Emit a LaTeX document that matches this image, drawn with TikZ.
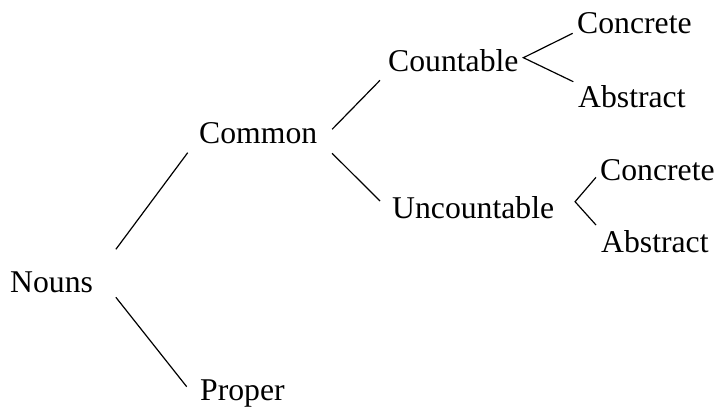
\documentclass[tikz,border=0pt]{standalone}
\usepackage{fontspec}
\setmainfont{Liberation Serif}
\tikzset{
  word/.style={inner sep=0pt, anchor=base west},
  branch/.style={line width=1.2pt}
}
\begin{document}
\begin{tikzpicture}[font=\fontsize{31.7}{38}\selectfont, x=1pt, y=-1pt]
        \useasboundingbox (0,0) rectangle (717,407);
        \node[word] (nouns) at (10,292) {Nouns};
        \node[word] (common) at (199,143) {Common};
        \node[word] (proper) at (200,400) {Proper};
        \node[word] (countable) at (388,71) {Countable};
        \node[word] (uncountable) at (392,218) {Uncountable};
        \node[word] (concA) at (577,33) {Concrete};
        \node[word] (abstA) at (578,107) {Abstract};
        \node[word] (concB) at (600,180) {Concrete};
        \node[word] (abstB) at (601,252) {Abstract};
        % branches
        \draw[branch] ([shift={(22.7,-42.7)}]nouns.base east) -- ([shift={(-11.3,9.7)}]common.base west);
        \draw[branch] ([shift={(22.7,5.3)}]nouns.base east) -- ([shift={(-13.3,-13.3)}]proper.base west);
        \draw[branch] ([shift={(14.7,-13.7)}]common.base east) -- ([shift={(-8,9.3)}]countable.base west);
        \draw[branch] ([shift={(14.7,10.3)}]common.base east) -- ([shift={(-12,-17)}]uncountable.base west);
        \draw[branch] ([shift={(-4.3,0.3)}]concA.base west) -- ([shift={(4.7,-13.3)}]countable.base east) -- ([shift={(-4.7,-25.3)}]abstA.base west);
        \draw[branch] ([shift={(-4,-2.7)}]concB.base west) -- ([shift={(20.7,-16.3)}]uncountable.base east) -- ([shift={(-5,-27)}]abstB.base west);
    \end{tikzpicture}
\end{document}
